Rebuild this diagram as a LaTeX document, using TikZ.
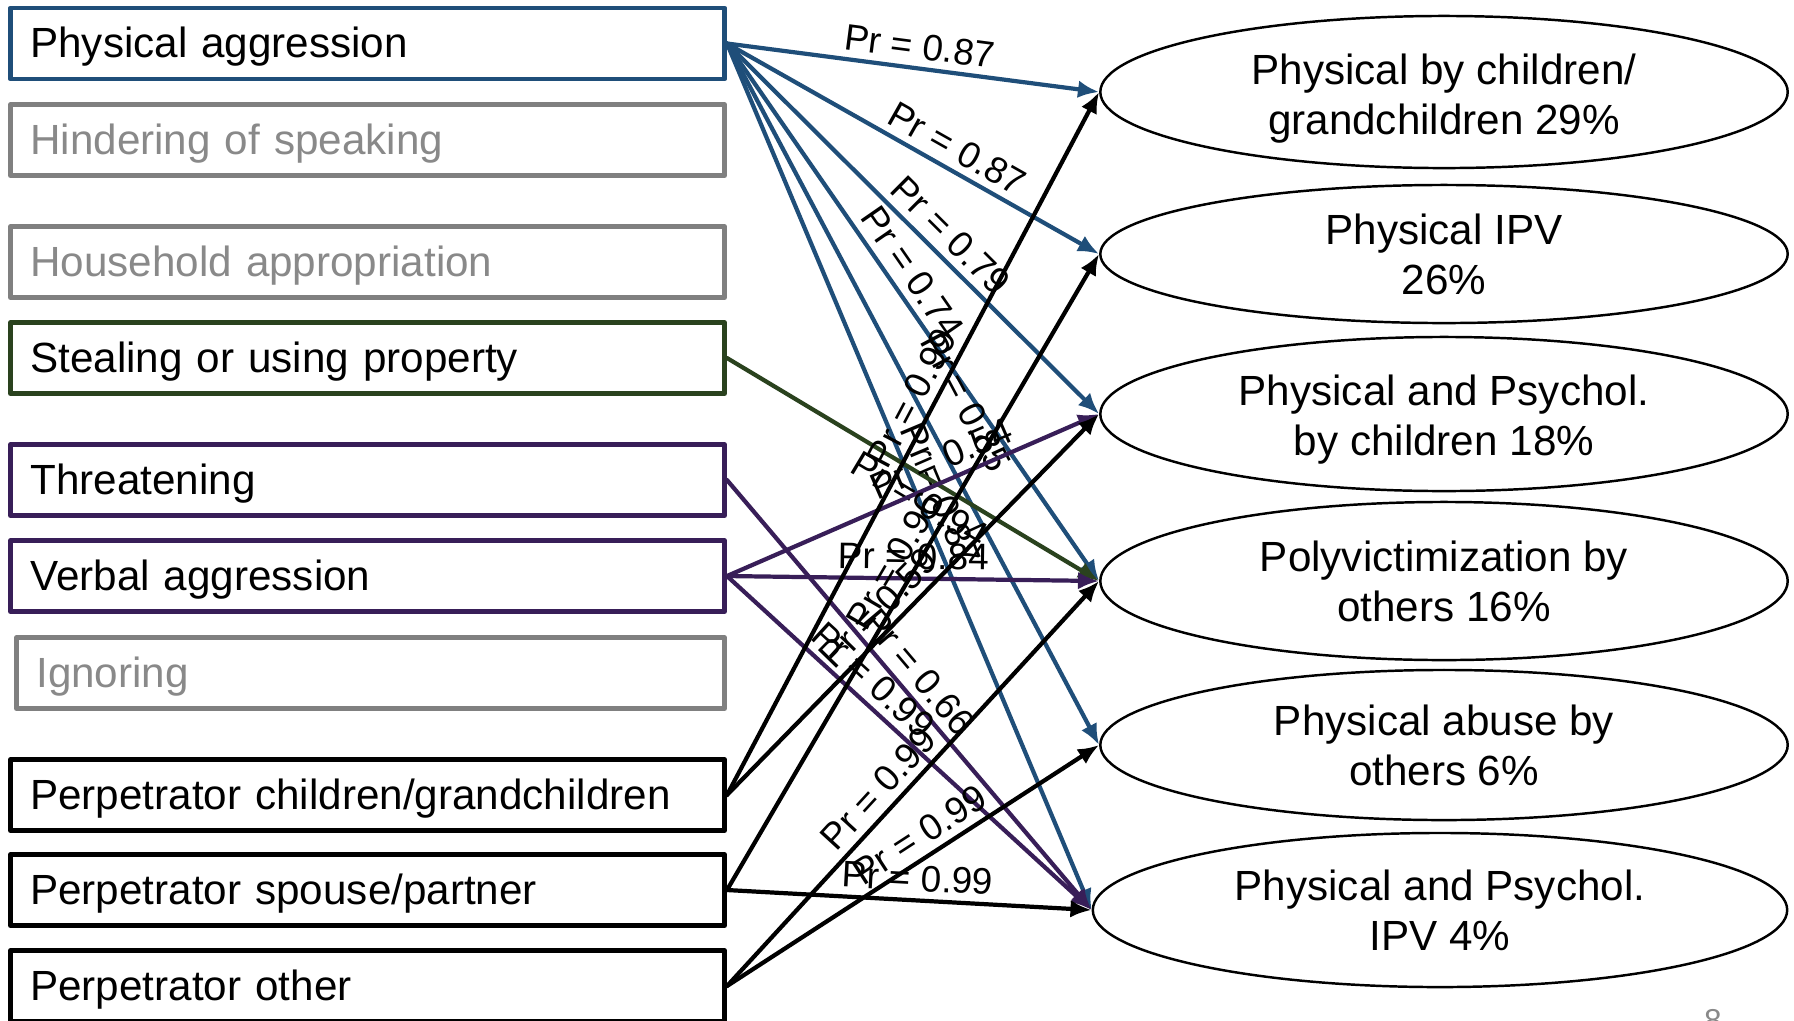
\documentclass[tikz,border=0pt]{standalone}
\usepackage{fontspec}
\setmainfont{Liberation Sans}
\usetikzlibrary{arrows.meta}
\usetikzlibrary{shapes.geometric}
\definecolor{paBlue}{RGB}{31,78,121}
\definecolor{spGreen}{RGB}{42,66,30}
\definecolor{vaPurple}{RGB}{56,30,88}
\definecolor{boxGray}{RGB}{128,128,128}
\definecolor{txtGray}{RGB}{137,137,137}
\begin{document}
\begin{tikzpicture}[line cap=round,line join=round, x=0.01cm,y=-0.01cm,
  cause/.style={draw=#1, line width=1.3pt, rectangle, anchor=west, text width=6.74cm, inner xsep=0.2cm, inner ysep=0pt, minimum height=0.71cm, text height=8.2pt, text depth=0pt, align=left, font=\fontsize{12}{14}\selectfont},
  idle/.style={cause=boxGray, text=txtGray},
  outcome/.style={draw, ellipse, line width=0.7pt, minimum width=6.87cm, minimum height=1.52cm, inner sep=0pt, align=center, font=\fontsize{12}{14.2}\selectfont},
  link/.style={draw=#1, line width=1.2pt, -{Latex[length=6pt, width=5pt]}},
  lbl/.style={sloped, inner sep=2pt, font=\fontsize{10.5}{12}\selectfont}]
\useasboundingbox (0,0) rectangle (1794,1020);
\node[cause=paBlue] (pa) at (8,43.5) {Physical aggression};
\node[idle] (hs) at (8,140) {Hindering of speaking};
\node[idle] (ha) at (8,262) {Household appropriation};
\node[cause=spGreen] (sp) at (8,358) {Stealing or using property};
\node[cause=vaPurple] (th) at (8,480) {Threatening};
\node[cause=vaPurple] (va) at (8,576) {Verbal aggression};
\node[idle, text width=6.68cm] (ig) at (14,673) {Ignoring};
\node[cause=black] (pc) at (8,795) {Perpetrator children/grandchildren};
\node[cause=black] (ps) at (8,890) {Perpetrator spouse/partner};
\node[cause=black] (po) at (8,986) {Perpetrator other};
\node[outcome, text height=26.8pt, text depth=2.5pt] (e1) at (1444,92) {Physical by children/\\grandchildren 29\%};
\node[outcome, minimum height=1.38cm] (e2) at (1444,254) {Physical IPV\\26\%};
\node[outcome, minimum height=1.54cm, text height=26pt, text depth=2.5pt] (e3) at (1444,414) {Physical and Psychol.\\by children 18\%};
\node[outcome, minimum height=1.58cm] (e4) at (1444,581) {Polyvictimization by\\others 16\%};
\node[outcome, minimum height=1.50cm] (e5) at (1444,745) {Physical abuse by\\others 6\%};
\node[outcome, minimum width=6.94cm, minimum height=1.54cm] (e6) at (1440,910) {Physical and Psychol.\\IPV 4\%};
\node[text=txtGray, font=\fontsize{9}{10}\selectfont] (pgnum) at (1713,1021) {8};
\draw[link=paBlue] (pa.east) -- node[lbl, pos=.51, above] (l1) {Pr = 0.87} (e1.west);
\draw[link=paBlue] (pa.east) -- node[lbl, pos=.59, above] (l2) {Pr = 0.87} (e2.west);
\draw[link=paBlue] (pa.east) -- node[lbl, pos=.56, above] (l3) {Pr = 0.79} (e3.west);
\draw[link=paBlue] (pa.east) -- node[lbl, pos=.45, above] (l4) {Pr = 0.74} (e4.west);
\draw[link=paBlue] (pa.east) -- node[lbl, pos=.54, above=6pt] (l5) {Pr = 0.85} (e5.west);
\draw[link=paBlue] (pa.east) -- node[lbl, pos=.53, above] (l6) {Pr = 0.87} (e6.west);
\draw[link=spGreen] (sp.east) -- node[lbl, pos=.55, below] (l7) {Pr = 0.94} (e4.west);
\draw[link=vaPurple] (th.east) -- node[lbl, pos=.48, above] (l8) {Pr = 0.66} (e6.west);
\draw[link=vaPurple] (va.east) -- node[lbl, pos=.6, above] (l9) {Pr = 0.54} (e3.west);
\draw[link=vaPurple] (va.east) -- node[lbl, pos=.5, above] (l10) {Pr = 0.84} (e4.west);
\draw[link=vaPurple] (va.east) -- node[lbl, pos=.36, above] (l11) {Pr = 0.99} (e6.west);
\draw[link=black] (pc.east) -- node[lbl, pos=.55, above] (l12) {Pr = 0.99} (e1.west);
\draw[link=black] (pc.east) -- node[lbl, pos=.45, above] (l13) {Pr = 0.59} (e3.west);
\draw[link=black] (ps.east) -- node[lbl, pos=.5, above] (l14) {Pr = 0.96} (e2.west);
\draw[link=black] (ps.east) -- node[lbl, pos=.52, above] (l15) {Pr = 0.99} (e6.west);
\draw[link=black] (po.east) -- node[lbl, pos=.45, above] (l16) {Pr = 0.99} (e4.west);
\draw[link=black] (po.east) -- node[lbl, pos=.55, above] (l17) {Pr = 0.99} (e5.west);
\end{tikzpicture}
\end{document}
